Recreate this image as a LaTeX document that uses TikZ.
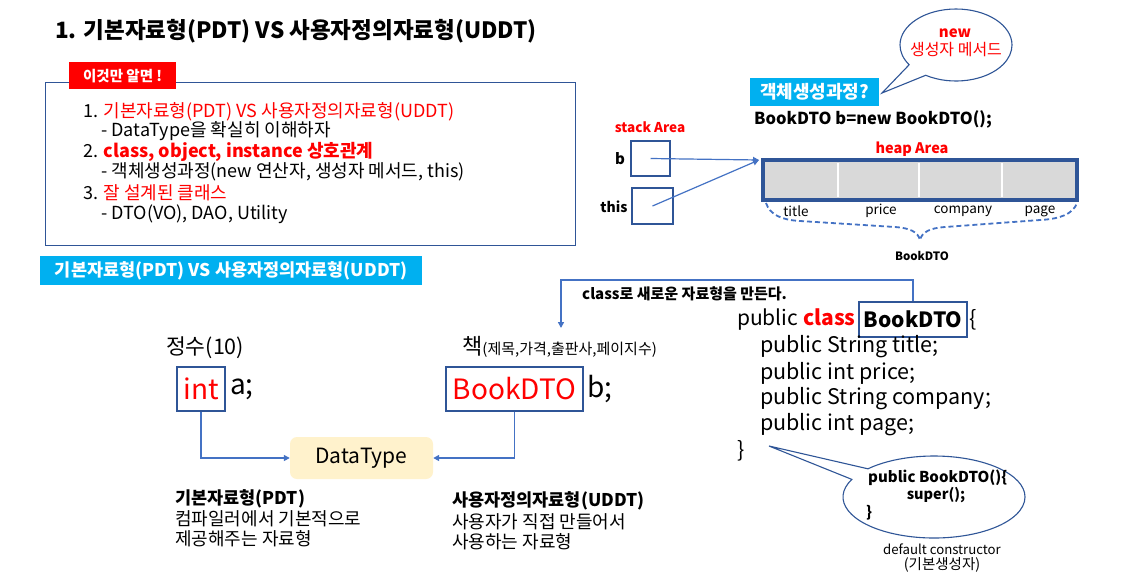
\documentclass[tikz,border=0pt]{standalone}
\usepackage{fontspec}
\setmainfont{Noto Sans CJK KR}
\usetikzlibrary{arrows.meta,shapes.geometric,shapes.callouts}
\definecolor{dkblue}{HTML}{2F5597}
\definecolor{lnblue}{HTML}{4472C4}
\definecolor{cyanbg}{HTML}{00B0F0}
\definecolor{myred}{HTML}{FF0000}
\definecolor{heapgray}{HTML}{D9D9D9}
\definecolor{dtyellow}{HTML}{FFF2CC}
\newcommand{\fsz}[1]{\fontsize{#1}{#1}\selectfont}
\tikzset{
  lbl/.style={inner sep=0pt, anchor=west},
  clbl/.style={inner sep=0pt},
  conn/.style={draw=lnblue, line width=1.5pt, -{Triangle[length=6pt,width=6pt]}},
  stackbox/.style={draw=dkblue, line width=2pt, inner sep=0pt},
  typebox/.style={draw=dkblue, line width=2pt, inner sep=0pt, minimum height=44pt},
  bubble/.style={ellipse callout, draw=dkblue, line width=1.1pt, fill=white, inner sep=0pt},
  banner/.style={fill=cyanbg, text=white, inner sep=0pt, font=\bfseries},
}
\begin{document}
\begin{tikzpicture}[x=1pt,y=-1pt]
\useasboundingbox[fill=white] (0,0) rectangle (1130,587);

% title
\node[lbl, font=\fsz{22.5}\bfseries] (title) at (55,31) {1. 기본자료형(PDT) VS 사용자정의자료형(UDDT)};

% summary panel
\node[draw=dkblue, line width=1.2pt, anchor=north west, minimum width=530pt, minimum height=163pt, inner sep=0pt] (panel) at (45,82) {};
\node[fill=myred, text=white, font=\fsz{14.5}\bfseries, anchor=north west, minimum width=107pt, minimum height=27pt, inner sep=0pt] (tag) at (69,62) {이것만 알면 !};
\node[lbl, font=\fsz{18}] (l1) at (83,112) {1. \textcolor{myred}{기본자료형(PDT) VS 사용자정의자료형(UDDT)}};
\node[lbl, font=\fsz{18}] (l2) at (101,131) {- DataType을 확실히 이해하자};
\node[lbl, font=\fsz{18}] (l3) at (83,152) {2. \textcolor{myred}{\bfseries class, object, instance 상호관계}};
\node[lbl, font=\fsz{18}] (l4) at (101,172) {- 객체생성과정(new 연산자, 생성자 메서드, this)};
\node[lbl, font=\fsz{18}] (l5) at (83,193) {3. \textcolor{myred}{잘 설계된 클래스}};
\node[lbl, font=\fsz{18}] (l6) at (101,214) {- DTO(VO), DAO, Utility};

% section banner
\node[banner, font=\fsz{17.5}\bfseries, anchor=north west, minimum width=382pt, minimum height=29pt] (sec) at (40,256) {기본자료형(PDT) VS 사용자정의자료형(UDDT)};

% speech bubble: new
\node[bubble, minimum width=112pt, minimum height=72pt, callout absolute pointer={(882,93)}, callout pointer arc=24] (bub1) at (956,45) {};
\node[clbl, font=\fsz{15}\bfseries, text=myred] (bnew) at (955,33) {new};
\node[clbl, font=\fsz{16}, text=myred] (bctor) at (956,50) {생성자 메서드};

% object creation
\node[banner, font=\fsz{18}\bfseries, minimum width=129pt, minimum height=28pt] (proc) at (814.5,92) {객체생성과정?};
\node[lbl, font=\fsz{16.5}\bfseries] (stmt) at (754,119) {BookDTO b=new BookDTO();};

% stack
\node[clbl, font=\fsz{13.5}\bfseries, text=myred] (stacklbl) at (650,127) {stack Area};
\node[clbl, font=\fsz{15}\bfseries] (blbl) at (620,159) {b};
\node[clbl, font=\fsz{14}\bfseries] (thislbl) at (614,207) {this};
\node[stackbox, minimum width=39pt, minimum height=35pt] (bbox) at (650.5,158.5) {};
\node[stackbox, minimum width=41pt, minimum height=36pt] (thisbox) at (652.5,206) {};

% heap
\node[clbl, font=\fsz{14.5}\bfseries, text=myred] (heaplbl) at (912,149) {heap Area};
\node[draw=dkblue, line width=4pt, fill=heapgray, minimum width=314pt, minimum height=40pt, inner sep=0pt] (heap) at (920,180) {};
\draw[white, line width=1.5pt] (838,163) -- (838,197);
\draw[white, line width=1.5pt] (919,163) -- (919,197);
\draw[white, line width=1.5pt] (1002,163) -- (1002,197);
\coordinate (heapin) at (759,160);
\draw[conn, line width=1.2pt] (bbox.center) -- (heapin);
\draw[conn, line width=1.2pt] (thisbox.center) -- (heapin);

\node[clbl, font=\fsz{13.5}] (ftitle) at (796,211) {title};
\node[clbl, font=\fsz{13.5}] (fprice) at (881,211) {price};
\node[clbl, font=\fsz{13.5}] (fcomp) at (963,211) {company};
\node[clbl, font=\fsz{13.5}] (fpage) at (1040,211) {page};

\draw[lnblue, line width=1.8pt, dash pattern=on 5pt off 3pt]
  (766,203) .. controls (770,215) and (782,220) .. (800,221)
  -- (895,227) .. controls (910,228) and (918,232) .. (920,240)
  .. controls (922,232) and (930,228) .. (945,227)
  -- (1040,220) .. controls (1060,219) and (1073,214) .. (1077,203);
\node[clbl, font=\fsz{11.5}\bfseries] (heapname) at (922,256) {BookDTO};

% class definition
\node[lbl, font=\fsz{21}] (c1) at (737,320) {public \textcolor{myred}{\bfseries class}};
\node[draw=dkblue, line width=2pt, inner sep=0pt, minimum width=108pt, minimum height=35pt, font=\fsz{21}\bfseries] (clsname) at (913,319.5) {BookDTO};
\node[lbl, font=\fsz{21.5}] (c1b) at (969,320) {\{};
\node[lbl, font=\fsz{21.5}] (c2) at (760,347) {public String title;};
\node[lbl, font=\fsz{21.5}] (c3) at (760,373) {public int price;};
\node[lbl, font=\fsz{21.5}] (c4) at (760,399) {public String company;};
\node[lbl, font=\fsz{21.5}] (c5) at (760,425) {public int page;};
\node[lbl, font=\fsz{21.5}] (c6) at (737,451) {\}};

\node[lbl, font=\fsz{15}\bfseries] (newtype) at (582,294) {class로 새로운 자료형을 만든다.};
\coordinate (booktip) at (561,328);
\draw[conn] (clsname.north) -- ++(0,-21) -| (booktip);

% constructor bubble
\node[bubble, minimum width=182pt, minimum height=82pt, callout absolute pointer={(769,446)}, callout pointer arc=18] (bub2) at (934,497) {};
\node[lbl, font=\fsz{15}\bfseries] (k1) at (868,478) {public BookDTO()\{};
\node[clbl, font=\fsz{14.5}\bfseries] (k2) at (936,495) {super();};
\node[lbl, font=\fsz{15}\bfseries] (k3) at (866,513) {\}};
\node[clbl, font=\fsz{13.2}] (dc1) at (942,549) {default constructor};
\node[clbl, font=\fsz{14.5}] (dc2) at (942,565) {(기본생성자)};

% primitive vs user-defined
\node[lbl, font=\fsz{21.5}] (jeongsu) at (166,348) {정수(10)};
\node[lbl] (chaek) at (462,347) {{\fsz{22}책}{\fsz{15}(제목,가격,출판사,페이지수)}};
\node[typebox, minimum width=48pt, font=\fsz{28}, text=myred] (intbox) at (201,389) {int};
\node[lbl, font=\fsz{28}] (avar) at (230,389) {a;};
\node[typebox, minimum width=137pt, font=\fsz{28}, text=myred] (bookbox) at (514.5,389) {BookDTO};
\node[lbl, font=\fsz{28}] (bvar) at (587,389) {b;};
\node[fill=dtyellow, rounded corners=7pt, minimum width=143pt, minimum height=42pt, inner sep=0pt, font=\fsz{21}] (dt) at (361.5,458) {DataType};
\draw[conn] (intbox.south) |- (dt.west);
\draw[conn] (bookbox.south) |- (dt.east);

\node[lbl, font=\fsz{17.5}\bfseries] (p1) at (175,499) {기본자료형(PDT)};
\node[lbl, font=\fsz{18}] (p2) at (175,519) {컴파일러에서 기본적으로};
\node[lbl, font=\fsz{18}] (p3) at (175,539) {제공해주는 자료형};
\node[lbl, font=\fsz{17.5}\bfseries] (u1) at (452,501) {사용자정의자료형(UDDT)};
\node[lbl, font=\fsz{18}] (u2) at (452,522) {사용자가 직접 만들어서};
\node[lbl, font=\fsz{18}] (u3) at (452,542) {사용하는 자료형};
\end{tikzpicture}
\end{document}
